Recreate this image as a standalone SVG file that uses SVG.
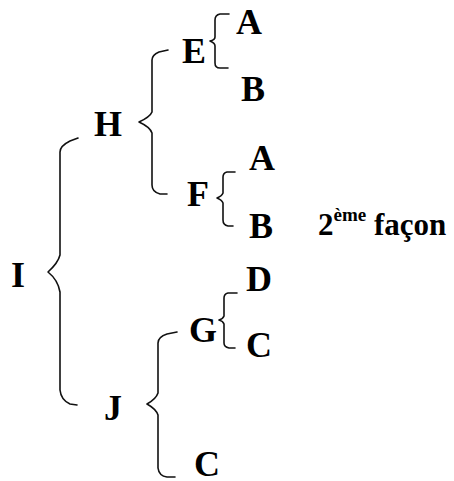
<svg xmlns="http://www.w3.org/2000/svg" width="454" height="481" viewBox="0 0 454 481">
  <style>
    .lbl { font-family: "Liberation Serif", "Times New Roman", serif; font-weight: bold; font-size: 36px; fill: #000; }
    .note { font-family: "Liberation Serif", "Times New Roman", serif; font-weight: bold; font-size: 31px; fill: #000; }
    .sup { font-size: 19px; }
    .brace { fill: none; stroke: #111; stroke-width: 1.6; stroke-linejoin: round; stroke-linecap: round; }
  </style>
  <rect width="454" height="481" fill="#fff"/>

  <!-- curly braces joining each parent to its children -->
  <g id="connectors">
    <path class="brace" d="M78,138 L70,141 Q60,146 60,152 L60,255 Q58,263 48,272 Q58,280 60,292 L60,390 Q61,400 70,404 L77,405"/>
    <path class="brace" d="M168,50 L159,52 Q152,55 152,60 L152,112 Q150,117 139,122 Q150,127 152,133 L152,185 Q152,192 160,194 L167,194"/>
    <path class="brace" d="M177,332 L167,334 Q158,337 158,343 L158,393 Q156,399 147,404 Q156,409 158,415 L158,468 Q159,476 167,477 L175,477"/>
    <path class="brace" d="M229,14 L220,14 Q215,15 215,20 L215,37 Q215,40 210,41 Q215,43 215,46 L215,63 Q215,68 220,68 L228,68"/>
    <path class="brace" d="M235,172 L227,172 Q223,173 223,177 L223,193 Q222,196 217,198 Q222,200 223,203 L223,220 Q223,225 228,226 L233,226"/>
    <path class="brace" d="M237,293 L228,293 Q224,294 224,298 L224,316 Q223,319 219,320 Q223,321 224,324 L224,343 Q224,347 229,348 L235,348"/>
  </g>

  <g id="node-I"><text class="lbl" x="11" y="287">I</text></g>
  <g id="node-H"><text class="lbl" x="94" y="136">H</text></g>
  <g id="node-J"><text class="lbl" x="104" y="420">J</text></g>
  <g id="node-E"><text class="lbl" x="182" y="63">E</text></g>
  <g id="node-F"><text class="lbl" x="187" y="206">F</text></g>
  <g id="node-G"><text class="lbl" x="189" y="342">G</text></g>
  <g id="node-A1"><text class="lbl" x="236" y="34">A</text></g>
  <g id="node-B1"><text class="lbl" x="241" y="101">B</text></g>
  <g id="node-A2"><text class="lbl" x="249" y="170">A</text></g>
  <g id="node-B2"><text class="lbl" x="249" y="238">B</text></g>
  <g id="node-D"><text class="lbl" x="246" y="291">D</text></g>
  <g id="node-C1"><text class="lbl" x="246" y="357">C</text></g>
  <g id="node-C2"><text class="lbl" x="194" y="476">C</text></g>

  <g id="note">
    <text class="note" x="318" y="235">2<tspan class="sup" dy="-14">ème</tspan><tspan dy="14"> façon</tspan></text>
  </g>
</svg>
